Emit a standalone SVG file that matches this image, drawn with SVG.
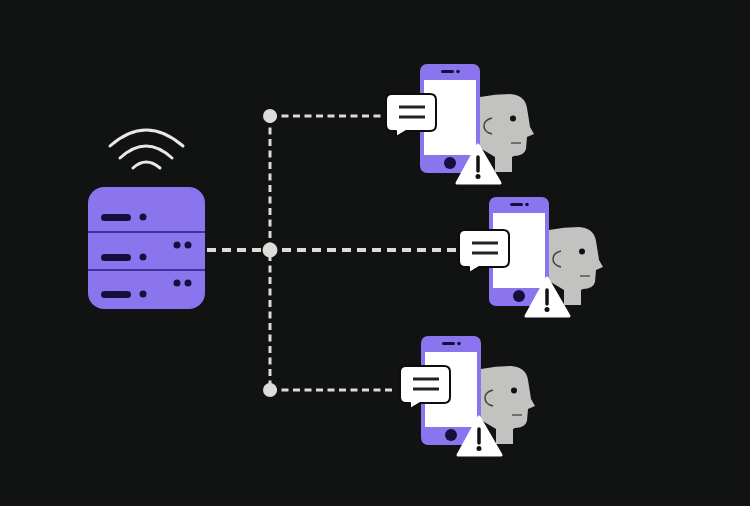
<svg xmlns="http://www.w3.org/2000/svg" xmlns:xlink="http://www.w3.org/1999/xlink" width="750" height="506" viewBox="0 0 750 506">
<style>
.dash{fill:none;stroke:#dcdcd8;stroke-width:3;stroke-dasharray:7 4.500}
.thick{stroke-width:4;stroke-dasharray:9 6}
.junction{fill:#dcdcd8}
.purple{fill:#8a75ee}
.ink{fill:#14103c}
.wifi{fill:none;stroke:#e8e8e8;stroke-width:3;stroke-linecap:round}
.rule{stroke:#2a1f86;stroke-width:1.500}
.bubble{fill:#fff;stroke:#0d0d0d;stroke-width:2;stroke-linejoin:round}
.bar{stroke:#222;stroke-width:3;stroke-linecap:butt}
</style>
<defs>
<g id="person">
<path d="M480 97Q495 94 510 94Q525 95 527 108Q529 120 530 127L534 134L527 137L526 149Q524 156 514 156L512 157V172H495V157L480 148Z" fill="#c2c2c0"/>
<circle cx="513" cy="118.500" r="3" fill="#111"/>
<path d="M511 143H521" stroke="#555" stroke-width="1.500"/>
<path d="M492 118Q484 120 484 126Q484 132 492 134" fill="none" stroke="#444" stroke-width="1.500"/>
</g>
<g id="phone">
<rect x="420" y="64" width="60" height="109" rx="7" class="purple"/>
<rect x="424" y="80" width="52" height="75" fill="#fff"/>
<rect x="441" y="70" width="13" height="3" rx="1.500" class="ink"/>
<circle cx="458" cy="71.500" r="1.800" class="ink"/>
<circle cx="450" cy="163" r="6" class="ink"/>
</g>
<g id="warning">
<path d="M478 145L500 183H457Z" fill="#fff" stroke="#fff" stroke-width="3" stroke-linejoin="round"/>
<path d="M478 157V171" stroke="#111" stroke-width="3.500" stroke-linecap="round"/>
<circle cx="478" cy="176.500" r="2.500" fill="#111"/>
</g>
<g id="message">
<path d="M6 0H44Q50 0 50 6V31Q50 37 44 37H20L10 43L10 37H6Q0 37 0 31V6Q0 0 6 0Z" class="bubble"/>
<path d="M13 13H39M13 23H39" class="bar"/>
</g>
</defs>
<rect width="750" height="506" fill="#111212"/>
<g id="connectors">
<path class="dash" d="M270 116H382"/>
<path class="dash" d="M270 116V390"/>
<path class="dash" d="M270 390H396"/>
<path class="dash thick" d="M207 250H458"/>
</g>
<g id="junction-top"><circle cx="270" cy="116" r="7" class="junction"/></g>
<g id="junction-middle"><circle cx="270" cy="250" r="7.500" class="junction"/></g>
<g id="junction-bottom"><circle cx="270" cy="390" r="7" class="junction"/></g>
<g id="server">
<path class="wifi" d="M110 146Q146 114 183 146"/>
<path class="wifi" d="M120 158Q146 134 172 158"/>
<path class="wifi" d="M133 168Q146 156 160 168"/>
<rect x="88" y="187" width="117" height="122" rx="16" class="purple"/>
<path class="rule" d="M88 232H205M88 270H205"/>
<rect x="101" y="214" width="30" height="7" rx="3.500" class="ink"/>
<circle cx="143" cy="217" r="3.500" class="ink"/>
<rect x="101" y="254" width="30" height="7" rx="3.500" class="ink"/>
<circle cx="143" cy="257" r="3.500" class="ink"/>
<rect x="101" y="291" width="30" height="7" rx="3.500" class="ink"/>
<circle cx="143" cy="294" r="3.500" class="ink"/>
<circle cx="177" cy="245" r="3.500" class="ink"/>
<circle cx="188" cy="245" r="3.500" class="ink"/>
<circle cx="177" cy="283" r="3.500" class="ink"/>
<circle cx="188" cy="283" r="3.500" class="ink"/>
</g>
<g id="user-top">
<use href="#person"/><use href="#phone"/><use href="#warning"/>
<use href="#message" x="386" y="94"/>
</g>
<g id="user-middle" transform="translate(69 133)">
<use href="#person"/><use href="#phone"/><use href="#warning"/>
<use href="#message" x="390" y="97"/>
</g>
<g id="user-bottom" transform="translate(1 272)">
<use href="#person"/><use href="#phone"/><use href="#warning"/>
<use href="#message" x="399" y="94"/>
</g>
</svg>
